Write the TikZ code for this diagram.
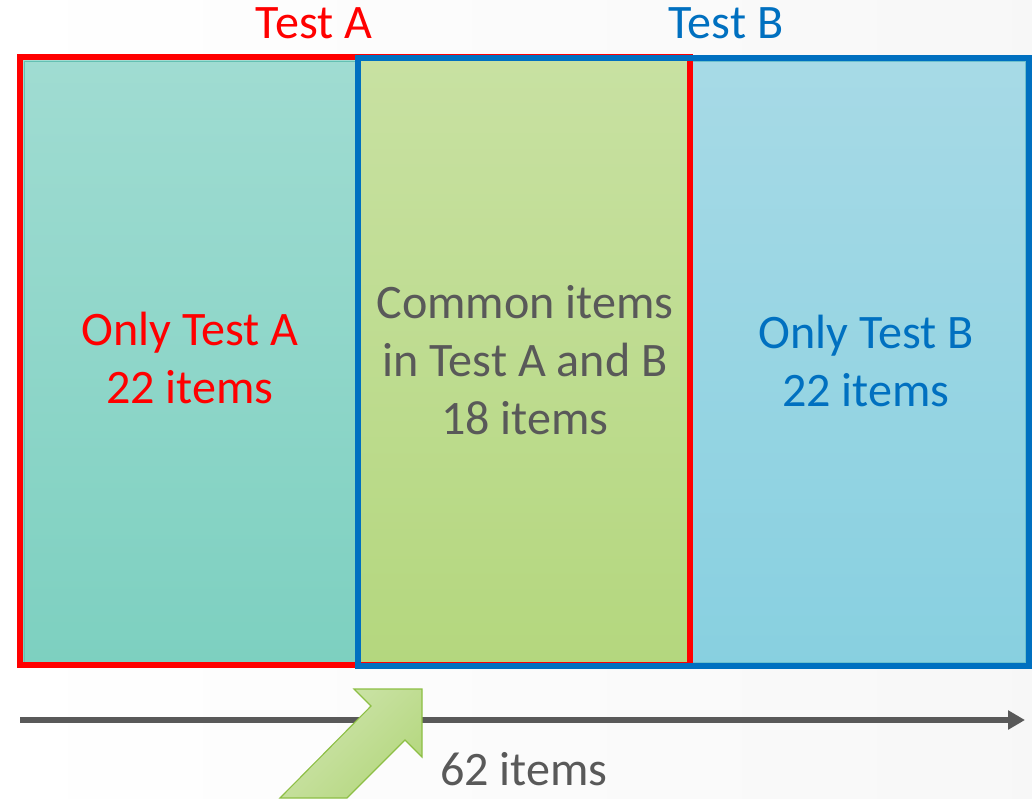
\documentclass[tikz,border=0pt]{standalone}
\usepackage{fontspec}
\setmainfont{Carlito}
\usetikzlibrary{arrows.meta}
\definecolor{redA}{HTML}{FF0000}
\definecolor{blueB}{HTML}{0070C0}
\definecolor{grayT}{HTML}{595959}
\definecolor{tealTop}{HTML}{A0DCD2}
\definecolor{tealBot}{HTML}{7DD0C0}
\definecolor{greenTop}{HTML}{C8E1A2}
\definecolor{greenBot}{HTML}{B4D77E}
\definecolor{skyTop}{HTML}{A7DAE6}
\definecolor{skyBot}{HTML}{88D0E0}
\definecolor{arrowEdge}{HTML}{8DBF45}
\tikzset{
  px/.style={x=0.025cm,y=-0.025cm},
  big/.style={font=\fontsize{34.2}{41}\selectfont, inner sep=0pt},
  lbl/.style={big, align=center},
  frameA/.style={draw=redA, line width=4.25pt},
  frameB/.style={draw=blueB, line width=4.25pt},
}
\begin{document}
\begin{tikzpicture}[px]
  % canvas
  \shade[left color=white, right color=black!3] (0,0) rectangle (1032,798);
  \useasboundingbox (0,0) rectangle (1032,798);

  % filled regions
  \shade[top color=tealTop, bottom color=tealBot] (20,57) rectangle (358,665);
  \draw[draw=tealBot!80!teal, line width=0.6pt] (24,61) rectangle (356,662);
  \shade[top color=greenTop, bottom color=greenBot] (358,57) rectangle (690,665);
  \shade[top color=skyTop, bottom color=skyBot] (690,57) rectangle (1029,665);
  \draw[draw=skyBot!80!teal, line width=0.6pt] (692,61) rectangle (1025,662);

  % test frames
  \node[frameA, minimum width=670*0.025cm, minimum height=608*0.025cm, inner sep=0pt] (testA) at (355,361) {};
  \node[frameB, minimum width=671*0.025cm, minimum height=608*0.025cm, inner sep=0pt] (testB) at (693.5,362) {};

  % titles
  \node[lbl, text=redA] (titleA) at (314,23) {Test A};
  \node[lbl, text=blueB] (titleB) at (726,23) {Test B};

  % region labels
  \node[lbl, text=redA] (onlyA) at (190,358) {Only Test A\\22 items};
  \node[lbl, text=grayT] (common) at (525,360) {Common items\\in Test A and B\\18 items};
  \node[lbl, text=blueB] (onlyB) at (866,361) {Only Test B\\22 items};

  % item axis
  \coordinate (axisStart) at (20,720);
  \coordinate (axisEnd) at (1025,720);
  \draw[grayT, line width=4.25pt, -{Triangle[length=12pt, width=13pt]}] (axisStart) -- (axisEnd);

  % pointer arrow towards the common block
  \shade[top color=greenTop!85!white, bottom color=greenBot, shading angle=45, draw=arrowEdge, line width=0.8pt]
    (354,689) -- (422,689) -- (422,757) -- (405,740) -- (347,798) -- (280,798) -- (371,706) -- cycle;

  \node[big, text=grayT, anchor=base] (total) at (524,785) {62 items};
\end{tikzpicture}
\end{document}
